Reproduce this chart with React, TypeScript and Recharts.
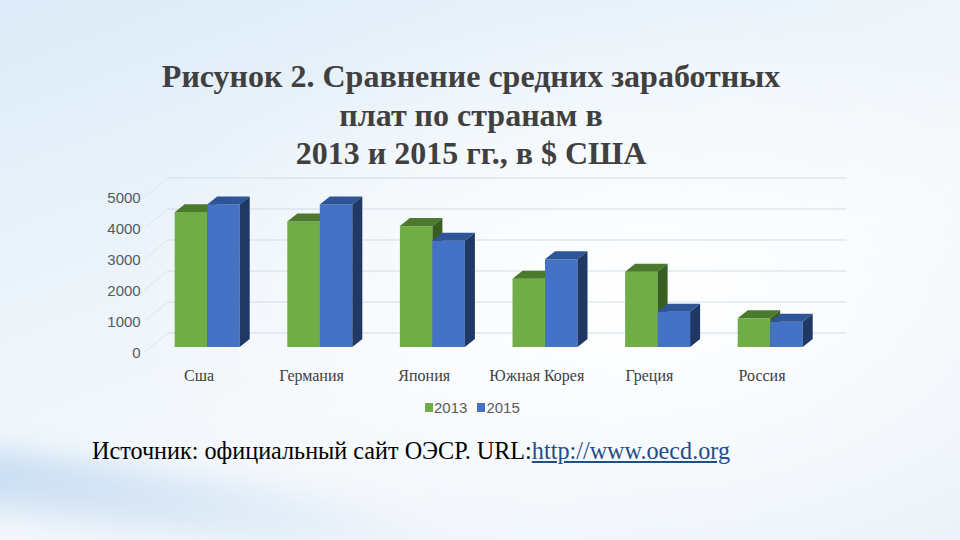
import React from "react";
import { BarChart, Bar, XAxis, YAxis, CartesianGrid } from "recharts";

const categories = ["Сша", "Германия", "Япония", "Южная Корея", "Греция", "Россия"];
const values2013 = [4350, 4050, 3900, 2200, 2430, 925];
const values2015 = [4600, 4600, 3430, 2830, 1140, 815];
const yTicks = [0, 1000, 2000, 3000, 4000, 5000];
const seriesNames = ["2013", "2015"];

const data = categories.map((c, i) => ({ name: c, y2013: values2013[i], y2015: values2015[i] }));

const DX = 10;
const DY = 8;

const makeShape = (front: string, top: string, side: string) => (props: any) => {
  const { x, y, width, height } = props;
  if (width == null || height == null) return <g />;
  return (
    <g>
      <rect x={x} y={y} width={width} height={height} fill={front} />
      <polygon
        points={`${x},${y} ${x + width},${y} ${x + width + DX},${y - DY} ${x + DX},${y - DY}`}
        fill={top}
      />
      <polygon
        points={`${x + width},${y} ${x + width + DX},${y - DY} ${x + width + DX},${y + height - DY} ${x + width},${y + height}`}
        fill={side}
      />
    </g>
  );
};

const greenShape = makeShape("#70AD47", "#4B7A2C", "#385E20");
const blueShape = makeShape("#4472C4", "#2E5597", "#1F3864");

const GridLine = (props: any) => {
  const { x1, y1, x2 } = props;
  return (
    <g>
      <line x1={x1 + 17} y1={y1 - 14} x2={x2 + 20} y2={y1 - 14} stroke="#d3dde6" strokeWidth={1} />
      <line x1={x1 - 6} y1={y1 + 5} x2={x1 + 17} y2={y1 - 14} stroke="#dde6ee" strokeWidth={1} />
    </g>
  );
};

const YTick = (props: any) => {
  const { x, y, payload } = props;
  return (
    <text x={x} y={y + 6} dy="0.35em" textAnchor="end" fill="#595959" fontSize={15} fontFamily="'Liberation Sans', Arial, sans-serif">
      {payload.value}
    </text>
  );
};

const XTick = (props: any) => {
  const { x, y, payload } = props;
  return (
    <text x={x - 8} y={y + 26} textAnchor="middle" fill="#404040" fontSize={16} fontFamily="'Liberation Serif', 'Times New Roman', serif">
      {payload.value}
    </text>
  );
};

export default function App() {
  return (
    <div
      style={{
        position: "absolute",
        left: 0,
        top: 0,
        width: 960,
        height: 540,
        overflow: "hidden",
        background:
          "radial-gradient(ellipse 520px 300px at 640px 300px, rgba(255,255,255,0.95), rgba(255,255,255,0) 100%), linear-gradient(160deg, #dcebf8 0%, #eef5fb 40%, #f4f8fc 60%, #eaf2fa 100%)",
      }}
    >
      <div
        style={{
          position: "absolute",
          left: -250,
          top: 455,
          width: 700,
          height: 90,
          transform: "rotate(8deg)",
          background: "radial-gradient(ellipse at 30% 40%, rgba(180,208,238,0.75), rgba(200,222,244,0) 70%)",
          filter: "blur(10px)",
        }}
      />
      <div
        style={{
          position: "absolute",
          left: 0,
          top: 57,
          width: 942,
          textAlign: "center",
          fontFamily: "'Liberation Serif', 'Times New Roman', serif",
          fontWeight: "bold",
          fontSize: 32,
          lineHeight: "38.5px",
          color: "#404040",
        }}
      >
        Рисунок 2. Сравнение средних заработных
        <br />
        плат по странам в
        <br />
        2013 и 2015 гг., в $ США
      </div>
      <div style={{ position: "absolute", left: 0, top: 0 }}>
        <BarChart
          width={960}
          height={540}
          data={data}
          margin={{ top: 192, right: 133.7, bottom: 163, left: 90.7 }}
          barGap={0}
          barSize={32.5}
        >
          <CartesianGrid vertical={false} horizontal={GridLine as any} stroke="#d3dde6" />
          <XAxis
            dataKey="name"
            axisLine={false}
            tickLine={{ stroke: "none" }}
            tickSize={6}
            tickMargin={2}
            height={30}
            tick={<XTick />}
            interval={0}
          />
          <YAxis
            domain={[0, 5000]}
            ticks={yTicks}
            axisLine={false}
            tickLine={{ stroke: "none" }}
            tickSize={8}
            tickMargin={2}
            width={60}
            tick={<YTick />}
            interval={0}
          />
          <Bar dataKey="y2013" name={seriesNames[0]} fill="#70AD47" shape={greenShape} isAnimationActive={false} />
          <Bar dataKey="y2015" name={seriesNames[1]} fill="#4472C4" shape={blueShape} isAnimationActive={false} />
        </BarChart>
      </div>
      <div
        style={{
          position: "absolute",
          left: 425,
          top: 399,
          display: "flex",
          alignItems: "center",
          fontFamily: "'Liberation Sans', Arial, sans-serif",
          fontSize: 15,
          color: "#595959",
        }}
      >
        {seriesNames.map((n, i) => (
          <span key={n} style={{ display: "flex", alignItems: "center", marginRight: 10 }}>
            <span style={{ width: 8, height: 9, background: i === 0 ? "#70AD47" : "#4472C4", marginRight: 1, display: "inline-block" }} />
            {n}
          </span>
        ))}
      </div>
      <div
        style={{
          position: "absolute",
          left: 92,
          top: 437,
          fontFamily: "'Liberation Serif', 'Times New Roman', serif",
          fontSize: 24.2,
          color: "#000",
          whiteSpace: "nowrap",
        }}
      >
        Источник: официальный сайт ОЭСР. URL:
        <span style={{ color: "#1f4e8c", textDecoration: "underline" }}>http://www.oecd.org</span>
      </div>
    </div>
  );
}
